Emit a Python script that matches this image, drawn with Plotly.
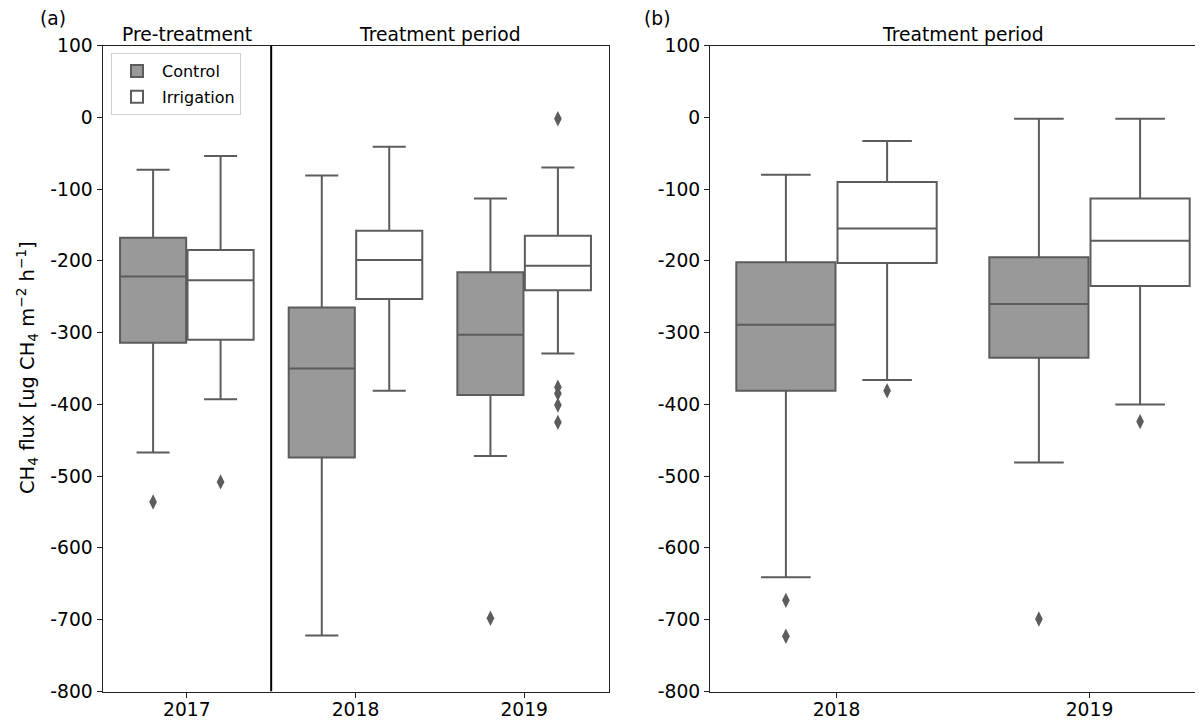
import plotly.graph_objects as go

# ---------------- data ----------------
years_a = ["2017", "2018", "2019"]
years_b = ["2018", "2019"]
groups = ["Control", "Irrigation"]

# Panel (a) – Control
a_ctrl_upper = [-73, -81, -113]
a_ctrl_q3 = [-168, -265, -216]
a_ctrl_med = [-222, -350, -303]
a_ctrl_q1 = [-314, -474, -387]
a_ctrl_lower = [-467, -722, -472]
a_ctrl_out_year = ["2017", "2019"]
a_ctrl_out_val = [-536, -698]

# Panel (a) – Irrigation
a_irr_upper = [-54, -41, -70]
a_irr_q3 = [-185, -158, -165]
a_irr_med = [-227, -199, -207]
a_irr_q1 = [-310, -253, -241]
a_irr_lower = [-393, -381, -329]
a_irr_out_year = ["2017", "2019", "2019", "2019", "2019", "2019"]
a_irr_out_val = [-508, -2, -376, -385, -401, -425]

# Panel (b) – Control
b_ctrl_upper = [-80, -2]
b_ctrl_q3 = [-202, -195]
b_ctrl_med = [-289, -260]
b_ctrl_q1 = [-381, -335]
b_ctrl_lower = [-641, -481]
b_ctrl_out_year = ["2018", "2018", "2019"]
b_ctrl_out_val = [-673, -723, -699]

# Panel (b) – Irrigation
b_irr_upper = [-33, -2]
b_irr_q3 = [-90, -113]
b_irr_med = [-155, -172]
b_irr_q1 = [-203, -235]
b_irr_lower = [-366, -400]
b_irr_out_year = ["2018", "2019"]
b_irr_out_val = [-381, -424]

y_ticks = [100, 0, -100, -200, -300, -400, -500, -600, -700, -800]
y_tick_labels = ["100", "0", "-100", "-200", "-300", "-400", "-500", "-600", "-700", "-800"]

# ---------------- styling ----------------
OFF = 8  # page body margin offset
W, H = 1203 - OFF, 720 - OFF
LINE = "#5c5c5c"
FILL = {"Control": "#999999", "Irrigation": "#ffffff"}
OFFSET = {"Control": -0.2, "Irrigation": 0.2}
BOXW = 0.392
FONT = "DejaVu Sans"
FS = 18.7


def px_x(p):
    return (p - OFF) / W


def px_y(p):
    return 1 - (p - OFF) / H


fig = go.Figure()


def add_panel(years, stats, outliers, xa, ya, show_legend):
    for g in groups:
        upper, q3, med, q1, lower = stats[g]
        pos = [i + OFFSET[g] for i in range(len(years))]
        fig.add_trace(go.Box(
            x=pos, q1=q1, median=med, q3=q3, lowerfence=lower, upperfence=upper,
            width=BOXW, whiskerwidth=0.5, boxpoints=False,
            fillcolor=FILL[g], line=dict(color=LINE, width=2),
            name=g, legendgroup=g, showlegend=show_legend,
            xaxis=xa, yaxis=ya, hoverinfo="skip",
        ))
        oy, ov = outliers[g]
        fig.add_trace(go.Scatter(
            x=[years.index(y) + OFFSET[g] for y in oy], y=ov, mode="markers",
            marker=dict(symbol="diamond-tall", size=11, color=LINE, line=dict(width=0)),
            showlegend=False, xaxis=xa, yaxis=ya, hoverinfo="skip",
        ))


add_panel(
    years_a,
    {"Control": (a_ctrl_upper, a_ctrl_q3, a_ctrl_med, a_ctrl_q1, a_ctrl_lower),
     "Irrigation": (a_irr_upper, a_irr_q3, a_irr_med, a_irr_q1, a_irr_lower)},
    {"Control": (a_ctrl_out_year, a_ctrl_out_val),
     "Irrigation": (a_irr_out_year, a_irr_out_val)},
    "x", "y", True,
)
add_panel(
    years_b,
    {"Control": (b_ctrl_upper, b_ctrl_q3, b_ctrl_med, b_ctrl_q1, b_ctrl_lower),
     "Irrigation": (b_irr_upper, b_irr_q3, b_irr_med, b_irr_q1, b_irr_lower)},
    {"Control": (b_ctrl_out_year, b_ctrl_out_val),
     "Irrigation": (b_irr_out_year, b_irr_out_val)},
    "x2", "y2", False,
)

y_dom = [px_y(691.5), px_y(45.5)]
axis_common = dict(showline=True, linecolor="#222222", linewidth=1, ticks="outside",
                   ticklen=5, tickcolor="#222222", tickwidth=1, showgrid=False,
                   zeroline=False, tickfont=dict(family=FONT, size=FS, color="black"),
                   automargin=False, fixedrange=True)

fig.update_layout(
    width=W, height=H, margin=dict(l=0, r=0, t=0, b=0),
    paper_bgcolor="white", plot_bgcolor="white",
    boxmode="overlay",
    font=dict(family=FONT, color="black"),
    xaxis=dict(domain=[px_x(102.5), px_x(608.5)], range=[-0.5, 2.5],
               tickvals=list(range(len(years_a))), ticktext=years_a,
               mirror=True, anchor="y", ticklabelstandoff=-4, **axis_common),
    yaxis=dict(domain=y_dom, range=[-800, 100], tickvals=y_ticks, ticktext=y_tick_labels,
               mirror=True, anchor="x", **axis_common),
    xaxis2=dict(domain=[px_x(710), 1.0], range=[-0.5, -0.5 + (1203 - 710) / 253.0],
                tickvals=list(range(len(years_b))), ticktext=years_b,
                mirror=True, anchor="y2", ticklabelstandoff=-4, **axis_common),
    yaxis2=dict(domain=y_dom, range=[-800, 100], tickvals=y_ticks, ticktext=y_tick_labels,
                mirror=False, anchor="x2", **axis_common),
    legend=dict(x=px_x(111), y=px_y(53), xanchor="left", yanchor="top",
                bgcolor="rgba(255,255,255,0.8)", bordercolor="#d0d0d0", borderwidth=1,
                font=dict(family=FONT, size=16, color="black"),
                itemwidth=40, tracegroupgap=2),
    showlegend=True,
)

# divider between pre-treatment and treatment period
fig.add_shape(type="line", xref="x", yref="y", x0=0.5, x1=0.5, y0=-800, y1=100,
              line=dict(color="black", width=2))

title_y = px_y(47)
ann = [
    dict(text="Pre-treatment", xref="x", x=0, yref="paper", y=title_y),
    dict(text="Treatment period", xref="x", x=1.5, yref="paper", y=title_y),
    dict(text="Treatment period", xref="x2", x=0.5, yref="paper", y=title_y),
]
for a in ann:
    fig.add_annotation(xanchor="center", yanchor="bottom", showarrow=False,
                       font=dict(family=FONT, size=FS, color="black"), **a)

for txt, p in [("(a)", 53), ("(b)", 657)]:
    fig.add_annotation(text=txt, xref="paper", x=px_x(p), yref="paper", y=px_y(31),
                       xanchor="center", yanchor="bottom", showarrow=False,
                       font=dict(family=FONT, size=FS, color="black"))

fig.add_annotation(
    text="CH<sub>4</sub> flux [ug CH<sub>4</sub> m<sup>\u22122</sup> h<sup>\u22121</sup>]",
    xref="paper", x=px_x(27), yref="paper", y=px_y(368), textangle=-90,
    xanchor="center", yanchor="middle", showarrow=False,
    font=dict(family=FONT, size=19.5, color="black"))

fig.write_html("out.html")
